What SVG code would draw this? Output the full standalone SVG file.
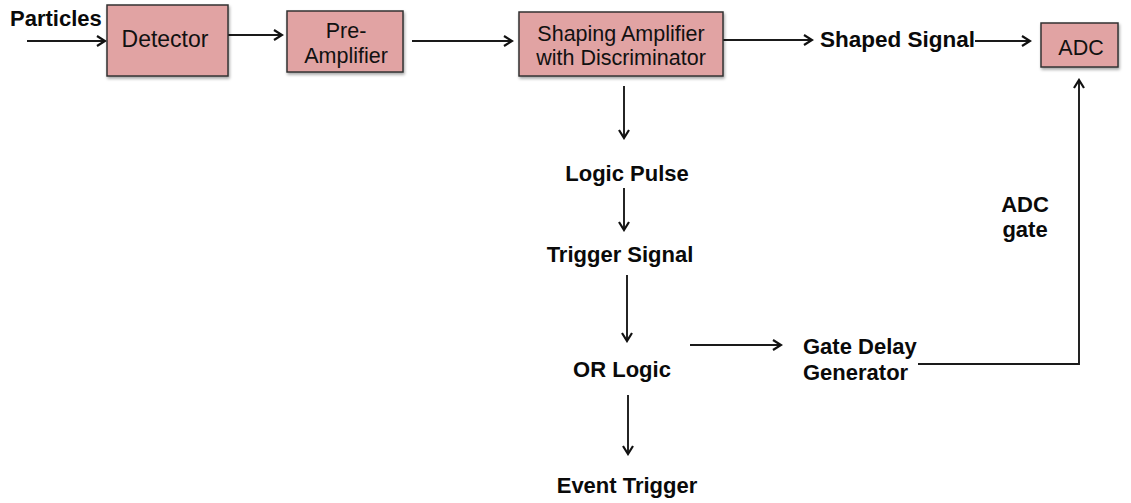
<svg xmlns="http://www.w3.org/2000/svg" width="1131" height="503" viewBox="0 0 1131 503">
  <defs>
    <marker id="arr" viewBox="0 0 12 12" refX="10" refY="6" markerWidth="12" markerHeight="12" markerUnits="userSpaceOnUse" orient="auto">
      <path d="M2,1 L10,6 L2,11" fill="none" stroke="#111" stroke-width="2.2"/>
    </marker>
    <filter id="sh" x="-10%" y="-10%" width="130%" height="140%">
      <feDropShadow dx="1" dy="2" stdDeviation="1.5" flood-color="#000" flood-opacity="0.35"/>
    </filter>
  </defs>
  <style>
    .box { fill: #e1a3a3; stroke: #333; stroke-width: 1.5; filter: url(#sh); }
    .bt { font-family: "Liberation Sans", Arial, sans-serif; font-size: 21.5px; fill: #111; text-anchor: middle; }
    .lb { font-family: "Liberation Sans", Arial, sans-serif; font-size: 22px; font-weight: bold; fill: #0a0a0a; }
    .mid { text-anchor: middle; }
    .c { fill: none; stroke: #1a1a1a; stroke-width: 1.9; }
  </style>
  <rect width="1131" height="503" fill="#fff"/>

  <g id="connectors">
    <line class="c" x1="27" y1="41" x2="105" y2="41" marker-end="url(#arr)"/>
    <line class="c" x1="228" y1="35" x2="282" y2="35" marker-end="url(#arr)"/>
    <line class="c" x1="412" y1="41" x2="512" y2="41" marker-end="url(#arr)"/>
    <line class="c" x1="723" y1="40" x2="812" y2="40" marker-end="url(#arr)"/>
    <line class="c" x1="975" y1="41" x2="1030" y2="41" marker-end="url(#arr)"/>
    <line class="c" x1="624" y1="86" x2="624" y2="138" marker-end="url(#arr)"/>
    <line class="c" x1="624" y1="188" x2="624" y2="230" marker-end="url(#arr)"/>
    <line class="c" x1="627" y1="275" x2="627" y2="341" marker-end="url(#arr)"/>
    <line class="c" x1="690" y1="345" x2="781" y2="345" marker-end="url(#arr)"/>
    <line class="c" x1="628" y1="395" x2="628" y2="454" marker-end="url(#arr)"/>
    <polyline class="c" points="918,364 1079,364 1079,80" marker-end="url(#arr)"/>
  </g>

  <g id="particles"><text class="lb" x="10" y="26">Particles</text></g>

  <g id="detector">
    <rect class="box" x="107" y="5" width="121" height="71"/>
    <text class="bt" x="165" y="47" style="font-size:23px">Detector</text>
  </g>

  <g id="pre-amplifier">
    <rect class="box" x="287" y="11" width="116" height="61"/>
    <text class="bt" x="346" y="38">Pre-</text>
    <text class="bt" x="346" y="63">Amplifier</text>
  </g>

  <g id="shaping-amplifier">
    <rect class="box" x="519" y="12" width="204" height="64"/>
    <text class="bt" x="621" y="41">Shaping Amplifier</text>
    <text class="bt" x="621" y="65">with Discriminator</text>
  </g>

  <g id="shaped-signal"><text class="lb" x="820" y="47" style="font-size:22.5px">Shaped Signal</text></g>

  <g id="adc">
    <rect class="box" x="1041" y="23" width="77" height="44"/>
    <text class="bt" x="1081" y="55">ADC</text>
  </g>

  <g id="logic-pulse"><text class="lb mid" x="627" y="181">Logic Pulse</text></g>
  <g id="trigger-signal"><text class="lb mid" x="620" y="262">Trigger Signal</text></g>
  <g id="or-logic"><text class="lb mid" x="622" y="377">OR Logic</text></g>
  <g id="event-trigger"><text class="lb mid" x="627" y="493">Event Trigger</text></g>

  <g id="gate-delay-generator">
    <text class="lb" x="803" y="354">Gate Delay</text>
    <text class="lb" x="803" y="380">Generator</text>
  </g>

  <g id="adc-gate">
    <text class="lb mid" x="1025" y="212">ADC</text>
    <text class="lb mid" x="1025" y="237">gate</text>
  </g>
</svg>
